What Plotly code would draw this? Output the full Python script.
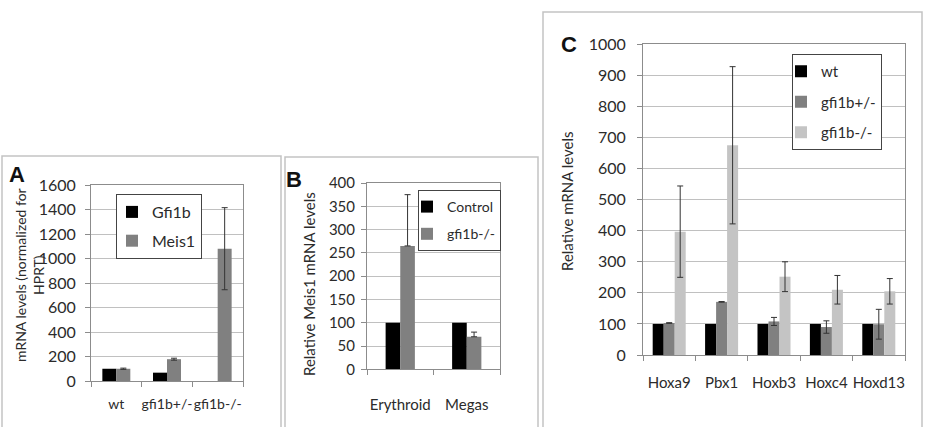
import plotly.graph_objects as go

# ---------------- data ----------------
A_categories = ["wt", "gfi1b+/-", "gfi1b-/-"]
A_gfi1b = [100, 68, 0]
A_meis1 = [100, 178, 1080]
A_meis1_err = [5, 8, 335]

B_categories = ["Erythroid", "Megas"]
B_control = [100, 100]
B_ko = [265, 70]
B_ko_err = [110, 10]
B_ko_err_minus = [0, 0]

C_categories = ["Hoxa9", "Pbx1", "Hoxb3", "Hoxc4", "Hoxd13"]
C_wt = [100, 100, 100, 100, 100]
C_het = [103, 171, 108, 90, 99]
C_het_err = [1, 1, 13, 20, 48]
C_ko = [397, 675, 252, 210, 205]
C_ko_err = [147, 253, 48, 46, 41]

# ---------------- style ----------------
W, H = 925, 427
FONT = "Lato"
TXT = "#2b2b2b"
BLACK = "#000000"
DARK = "#808080"
LIGHT = "#c4c4c4"
GRID = "#c0c0c0"
AXL = "#8c8c8c"
ERR = "#333333"
PANEL = "#c3c3c3"


def fx(p):
    return p / W


def fy(p):
    return 1 - p / H


def errd(arr, minus=None):
    d = dict(type="data", array=arr, color=ERR, thickness=1, width=3, visible=True)
    if minus is not None:
        d["symmetric"] = False
        d["arrayminus"] = minus
    return d


fig = go.Figure()

# Panel A
fig.add_bar(x=A_categories, y=A_gfi1b, name="Gfi1b", marker=dict(color=BLACK, line=dict(width=0)),
            width=0.276, offset=-0.276, xaxis="x", yaxis="y", legend="legend", legendgroup="a1")
fig.add_bar(x=A_categories, y=A_meis1, name="Meis1", marker=dict(color=DARK, line=dict(width=0)),
            width=0.276, offset=0.0, error_y=errd(A_meis1_err),
            xaxis="x", yaxis="y", legend="legend", legendgroup="a2")

# Panel B
fig.add_bar(x=B_categories, y=B_control, name="Control", marker=dict(color=BLACK, line=dict(width=0)),
            width=0.22, offset=-0.22, xaxis="x2", yaxis="y2", legend="legend2", legendgroup="b1")
fig.add_bar(x=B_categories, y=B_ko, name="gfi1b-/-", marker=dict(color=DARK, line=dict(width=0)),
            width=0.22, offset=0.0, error_y=errd(B_ko_err, B_ko_err_minus),
            xaxis="x2", yaxis="y2", legend="legend2", legendgroup="b2")

# Panel C
fig.add_bar(x=C_categories, y=C_wt, name="wt", marker=dict(color=BLACK, line=dict(width=0)),
            width=0.21, offset=-0.315, xaxis="x3", yaxis="y3", legend="legend3", legendgroup="c1")
fig.add_bar(x=C_categories, y=C_het, name="gfi1b+/-", marker=dict(color=DARK, line=dict(width=0)),
            width=0.21, offset=-0.105, error_y=errd(C_het_err),
            xaxis="x3", yaxis="y3", legend="legend3", legendgroup="c2")
fig.add_bar(x=C_categories, y=C_ko, name="gfi1b-/-", marker=dict(color=LIGHT, line=dict(width=0)),
            width=0.21, offset=0.105, error_y=errd(C_ko_err),
            xaxis="x3", yaxis="y3", legend="legend3", legendgroup="c3")


def xax(left, right, anchor, n, standoff, fs):
    return dict(domain=[fx(left), fx(right)], anchor=anchor, type="category",
                range=[-0.5, n - 0.5], tickson="boundaries", ticks="outside", ticklen=5,
                tickcolor=AXL, showline=True, linecolor=AXL, linewidth=1, mirror=True,
                showgrid=False, zeroline=False, fixedrange=True, automargin=False, tickangle=0,
                tickfont=dict(family=FONT, size=fs, color=TXT), ticklabelstandoff=standoff)


def yax(top, bottom, anchor, rng, dt, size, standoff):
    return dict(domain=[fy(bottom), fy(top)], anchor=anchor, range=rng, dtick=dt,
                ticks="outside", ticklen=5, tickcolor=AXL, showline=True, linecolor=AXL,
                linewidth=1, mirror=True, showgrid=True, gridcolor=GRID, gridwidth=1,
                zeroline=False, fixedrange=True, automargin=False,
                tickfont=dict(family=FONT, size=size, color=TXT), ticklabelstandoff=standoff)


def leg(x, y, size, gap, indent):
    return dict(x=fx(x), y=fy(y), xanchor="left", yanchor="top", bgcolor="white",
                bordercolor="#444444", borderwidth=1, font=dict(family=FONT, size=size, color=TXT),
                tracegroupgap=gap, indentation=indent, itemclick=False, itemdoubleclick=False)


fig.update_layout(
    template="none",
    width=W, height=H, margin=dict(l=0, r=0, t=0, b=0, autoexpand=False),
    paper_bgcolor="white", plot_bgcolor="white",
    barmode="overlay", showlegend=True,
    xaxis=xax(91, 243, "y", 3, 10, 14),
    yaxis=yax(185, 381, "x", [0, 1600], 200, 16, 6),
    xaxis2=xax(367, 500, "y2", 2, 22, 15),
    yaxis2=yax(183, 369.4, "x2", [0, 400], 50, 15, 3),
    xaxis3=xax(643, 905, "y3", 5, 14, 15),
    yaxis3=yax(44.3, 355, "x3", [0, 1000], 100, 16, 8),
    legend=leg(116, 194, 16, 5, -5),
    legend2=leg(418, 190, 14, 6, -12),
    legend3=leg(792, 54, 15, 8, -12),
)

# panel frames
for x0, y0, x1 in [(2, 156, 281), (285, 157, 538), (543, 12, 922)]:
    fig.add_shape(type="rect", xref="paper", yref="paper", x0=fx(x0), x1=fx(x1), y0=fy(y0), y1=fy(445),
                  line=dict(color=PANEL, width=1.5), fillcolor="rgba(0,0,0,0)", layer="below")

# panel letters
for t, x, y in [("A", 17, 174), ("B", 294, 179), ("C", 569, 44)]:
    fig.add_annotation(text="<b>%s</b>" % t, x=fx(x), y=fy(y), xref="paper", yref="paper",
                       showarrow=False, xanchor="center", yanchor="middle",
                       font=dict(family="Liberation Sans", size=22, color="#111111"))

# y-axis titles
for t, x, y, s in [("mRNA levels (normalized for<br>HPRT)", 29, 275, 14),
                   ("Relative Meis1 mRNA levels", 309, 284, 15),
                   ("Relative mRNA levels", 567, 201, 15)]:
    fig.add_annotation(text=t, x=fx(x), y=fy(y), xref="paper", yref="paper", showarrow=False,
                       textangle=-90, xanchor="center", yanchor="middle",
                       font=dict(family=FONT, size=s, color=TXT))

fig.write_html("out.html", config={"displayModeBar": False},
               post_script="document.body.style.margin='0px';")
